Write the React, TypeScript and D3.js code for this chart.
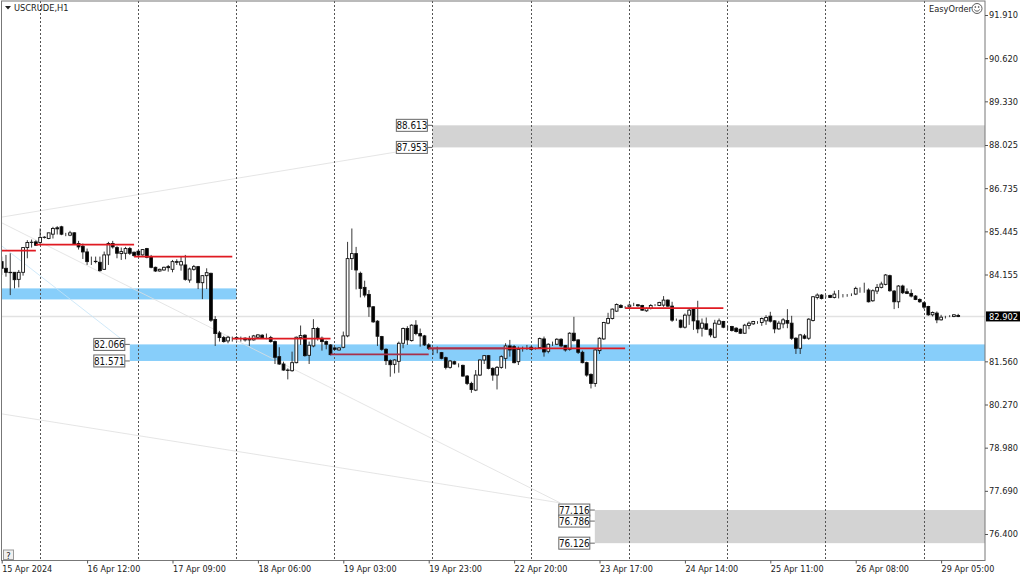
import * as d3 from 'd3';
import { useEffect, useRef } from 'react';

const opens = [
    84.54, 84.34, 84.22, 84.22, 84.01, 84.22, 84.96, 85.11, 85.13, 85.11,
    85.26, 85.23, 85.36, 85.55, 85.58, 85.36, 85.33, 85.40, 85.08, 85.00,
    84.83, 84.54, 84.54, 84.52, 84.31, 84.74, 85.08, 84.96, 84.78, 84.79,
    84.93, 84.82, 84.85, 84.74, 84.93, 84.69, 84.37, 84.26, 84.29, 84.39,
    84.31, 84.54, 84.44, 84.44, 83.99, 84.31, 84.39, 83.91, 84.12, 84.19,
    82.81, 82.41, 82.27, 82.17, 82.27, 82.27, 82.25, 82.25, 82.20, 82.20,
    82.28, 82.34, 82.28, 82.27, 82.15, 81.70, 81.48, 81.30, 81.28, 81.52,
    82.27, 82.34, 81.74, 82.02, 82.54, 82.25, 82.15, 82.05, 81.96, 81.90,
    81.98, 82.32, 84.63, 84.78, 84.19, 83.77, 83.56, 83.19, 82.76, 82.30,
    81.92, 81.58, 81.47, 81.56, 82.10, 82.54, 82.18, 82.64, 82.39, 82.32,
    82.05, 81.83, 81.85, 81.82, 81.67, 81.38, 81.55, 81.46, 81.44, 81.12,
    80.90, 80.70, 81.15, 81.60, 81.73, 81.35, 81.15, 81.38, 81.65, 82.02,
    82.00, 81.55, 81.95, 81.97, 81.98, 81.94, 81.97, 82.23, 81.86, 82.08,
    82.07, 82.22, 82.03, 81.92, 82.40, 82.20, 81.83, 81.52, 81.17, 80.90,
    81.88, 82.23, 82.70, 82.84, 83.06, 83.23, 83.19, 83.19, 83.24, 83.25,
    83.23, 83.07, 83.14, 83.24, 83.23, 83.24, 83.39, 83.21, 82.81, 82.79,
    82.58, 82.94, 83.12, 82.77, 82.55, 82.68, 82.52, 82.28, 82.67, 82.75,
    82.59, 82.60, 82.55, 82.52, 82.40, 82.63, 82.68, 82.73, 82.72, 82.77,
    82.91, 82.77, 82.53, 82.68, 82.78, 82.70, 82.25, 81.95, 82.32, 82.25,
    82.78, 83.47, 83.54, 83.52, 83.53, 83.47, 83.55, 83.53, 83.53, 83.55,
    83.57, 83.71, 83.69, 83.69, 83.37, 83.66, 83.77, 83.86, 84.12, 83.66,
    83.34, 83.81, 83.64, 83.59, 83.51, 83.41, 83.31, 83.20, 82.95, 83.00,
    82.80, 82.90, 82.91, 82.90, 82.93,
];

const closes = [
    84.34, 84.22, 84.21, 84.00, 84.22, 84.96, 85.11, 85.12, 85.03, 85.26,
    85.27, 85.40, 85.53, 85.52, 85.36, 85.36, 85.40, 85.06, 84.98, 84.83,
    84.54, 84.54, 84.55, 84.27, 84.74, 85.08, 84.98, 84.79, 84.84, 84.93,
    84.79, 84.72, 84.74, 84.90, 84.67, 84.37, 84.26, 84.31, 84.37, 84.36,
    84.54, 84.52, 84.54, 84.01, 84.32, 84.39, 83.91, 84.12, 84.21, 82.79,
    82.39, 82.27, 82.15, 82.28, 82.27, 82.24, 82.25, 82.20, 82.23, 82.32,
    82.35, 82.26, 82.28, 82.15, 81.68, 81.48, 81.30, 81.29, 81.52, 82.28,
    82.33, 81.73, 82.04, 82.54, 82.25, 82.15, 82.07, 81.76, 81.92, 81.96,
    82.32, 84.63, 84.78, 84.29, 83.74, 83.54, 83.19, 82.74, 82.31, 81.92,
    81.58, 81.46, 81.60, 82.10, 82.54, 82.20, 82.64, 82.39, 82.32, 82.05,
    81.95, 81.83, 81.85, 81.65, 81.38, 81.57, 81.48, 81.46, 81.12, 80.90,
    80.72, 81.15, 81.60, 81.73, 81.35, 81.15, 81.38, 81.70, 82.02, 81.90,
    81.52, 81.92, 81.95, 81.97, 81.92, 81.94, 82.24, 81.84, 82.07, 82.08,
    82.22, 82.02, 81.90, 82.40, 82.18, 81.83, 81.52, 81.15, 80.90, 81.90,
    82.25, 82.72, 82.84, 83.12, 83.26, 83.17, 83.19, 83.24, 83.24, 83.22,
    83.09, 83.14, 83.23, 83.24, 83.32, 83.39, 83.21, 82.79, 82.81, 82.58,
    82.94, 83.09, 82.77, 82.53, 82.70, 82.52, 82.35, 82.70, 82.77, 82.58,
    82.59, 82.48, 82.45, 82.40, 82.64, 82.70, 82.75, 82.73, 82.84, 82.87,
    82.76, 82.53, 82.70, 82.80, 82.70, 82.25, 81.95, 82.35, 82.25, 82.82,
    83.49, 83.54, 83.44, 83.52, 83.47, 83.57, 83.55, 83.53, 83.53, 83.55,
    83.74, 83.71, 83.69, 83.34, 83.67, 83.77, 83.87, 84.14, 83.67, 83.34,
    83.81, 83.61, 83.59, 83.51, 83.41, 83.34, 83.18, 82.95, 83.02, 82.80,
    82.88, 82.90, 82.91, 82.95, 82.90,
];

const highs = [
    84.69, 84.74, 84.79, 84.22, 84.29, 84.97, 85.18, 85.20, 85.18, 85.53,
    85.30, 85.40, 85.58, 85.60, 85.61, 85.40, 85.46, 85.42, 85.16, 85.08,
    84.93, 84.69, 84.69, 84.69, 84.84, 85.13, 85.16, 85.00, 84.96, 84.98,
    84.98, 84.84, 84.88, 84.91, 84.95, 84.74, 84.39, 84.33, 84.39, 84.44,
    84.59, 84.61, 84.69, 84.74, 84.36, 84.44, 84.41, 84.14, 84.34, 84.21,
    82.91, 82.47, 82.32, 82.32, 82.30, 82.31, 82.30, 82.28, 82.32, 82.35,
    82.37, 82.37, 82.39, 82.32, 82.18, 81.98, 81.55, 81.35, 81.85, 82.30,
    82.63, 82.37, 82.15, 82.82, 82.59, 82.30, 82.18, 82.07, 81.98, 81.98,
    82.45, 85.13, 85.53, 84.98, 84.24, 83.97, 83.69, 83.21, 82.79, 82.32,
    81.95, 81.62, 81.62, 82.15, 82.57, 82.61, 82.67, 82.79, 82.54, 82.35,
    82.10, 81.95, 82.00, 81.84, 81.70, 81.60, 81.58, 81.50, 81.46, 81.15,
    80.95, 81.30, 81.62, 81.75, 81.75, 81.38, 81.42, 81.74, 82.10, 82.20,
    82.05, 82.00, 82.00, 82.05, 82.02, 81.97, 82.27, 82.30, 82.10, 82.15,
    82.25, 82.25, 82.05, 82.43, 82.89, 82.22, 81.88, 81.55, 81.20, 81.92,
    82.28, 82.74, 83.01, 83.14, 83.29, 83.27, 83.21, 83.29, 83.31, 83.27,
    83.25, 83.17, 83.27, 83.27, 83.34, 83.51, 83.41, 83.34, 82.84, 82.81,
    82.99, 83.14, 83.14, 83.37, 82.84, 82.87, 82.55, 82.80, 82.84, 82.77,
    82.62, 82.62, 82.58, 82.54, 82.68, 82.75, 82.77, 82.76, 82.87, 82.94,
    83.04, 82.79, 82.77, 82.85, 83.12, 82.92, 82.28, 82.38, 82.38, 82.85,
    83.51, 83.59, 83.57, 83.54, 83.55, 83.67, 83.69, 83.57, 83.57, 83.59,
    83.79, 83.77, 83.91, 83.74, 83.71, 83.87, 83.94, 84.17, 84.15, 83.69,
    83.84, 83.85, 83.74, 83.71, 83.54, 83.44, 83.34, 83.22, 83.05, 83.05,
    82.95, 82.92, 82.94, 82.97, 82.98,
];

const lows = [
    84.14, 84.09, 83.54, 83.74, 83.77, 84.12, 84.64, 84.96, 85.01, 85.03,
    85.23, 85.21, 85.23, 85.35, 85.33, 85.30, 85.30, 85.04, 84.90, 84.62,
    84.44, 84.44, 84.49, 84.24, 84.29, 84.44, 84.93, 84.64, 84.59, 84.61,
    84.74, 84.69, 84.69, 84.72, 84.64, 84.34, 84.23, 84.24, 84.27, 84.24,
    84.22, 84.44, 84.27, 83.97, 83.91, 84.27, 83.72, 83.42, 83.72, 82.74,
    82.02, 82.15, 82.12, 82.10, 82.15, 82.19, 82.15, 82.15, 82.02, 82.18,
    82.26, 82.24, 82.22, 82.12, 81.48, 81.45, 81.28, 81.02, 81.25, 81.50,
    82.05, 81.70, 81.48, 81.98, 82.18, 81.88, 81.92, 81.74, 81.90, 81.88,
    81.95, 82.28, 84.29, 83.71, 83.47, 83.47, 82.89, 82.71, 82.02, 81.88,
    81.45, 81.10, 81.20, 81.22, 81.95, 82.05, 82.15, 82.34, 82.00, 82.02,
    81.90, 81.75, 81.80, 81.62, 81.32, 81.34, 81.46, 81.38, 81.10, 80.85,
    80.62, 80.67, 81.12, 81.48, 81.32, 80.98, 80.72, 81.34, 81.34, 81.70,
    81.50, 81.45, 81.85, 81.90, 81.90, 81.91, 81.95, 81.70, 81.80, 82.02,
    82.05, 81.98, 81.85, 81.88, 82.15, 81.78, 81.50, 81.10, 80.75, 80.80,
    81.78, 82.20, 82.67, 82.81, 83.04, 83.15, 83.14, 83.14, 83.21, 83.19,
    83.07, 83.04, 83.11, 83.21, 83.21, 83.19, 83.19, 82.74, 82.77, 82.55,
    82.54, 82.65, 82.50, 82.40, 82.30, 82.50, 82.28, 82.25, 82.65, 82.55,
    82.50, 82.45, 82.42, 82.38, 82.38, 82.52, 82.65, 82.68, 82.62, 82.65,
    82.72, 82.40, 82.50, 82.55, 82.55, 82.20, 81.78, 81.78, 82.22, 82.20,
    82.75, 83.41, 83.41, 83.47, 83.45, 83.44, 83.44, 83.47, 83.49, 83.51,
    83.54, 83.61, 83.61, 83.32, 83.34, 83.57, 83.74, 83.83, 83.64, 83.12,
    83.15, 83.57, 83.57, 83.47, 83.39, 83.31, 83.12, 82.92, 82.90, 82.70,
    82.78, 82.84, 82.88, 82.88, 82.88,
];

// price axis
const priceTicks = [91.91, 90.62, 89.33, 88.025, 86.735, 85.445, 84.155, 81.56, 80.27, 78.98, 77.69, 76.4];
const lastPrice = 82.902;

// time axis: every 20th bar
const timeBars = [0, 20, 40, 60, 80, 100, 120, 140, 160, 180, 200, 220];
const timeLabels = [
    '15 Apr 2024', '16 Apr 12:00', '17 Apr 09:00', '18 Apr 06:00', '19 Apr 03:00', '19 Apr 23:00',
    '22 Apr 20:00', '23 Apr 17:00', '24 Apr 14:00', '25 Apr 11:00', '26 Apr 08:00', '29 Apr 05:00',
];

// period separators, bar index
const separatorBars = [9, 32, 55, 78, 101, 124, 147, 170, 193, 216];

// zones: [first bar, last bar, upper price, lower price]
const LAST_COLUMN = 230.3;
const blueZones = [
    [0, 55, 83.74, 83.41],
    [30, LAST_COLUMN, 82.066, 81.571],
];
const grayZones = [
    [100.85, LAST_COLUMN, 88.613, 87.953],
    [138.9, LAST_COLUMN, 77.116, 76.126],
];

// price tags: [bar, price]
const priceTags = [
    [100.85, 88.613],
    [100.85, 87.953],
    [30, 82.066],
    [30, 81.571],
    [138.9, 77.116],
    [138.9, 76.786],
    [138.9, 76.126],
];

// red levels: [first bar, last bar, price]
const redLevels = [
    [0, 8, 84.87],
    [8, 31, 85.05],
    [31, 54, 84.69],
    [54, 77, 82.24],
    [100, 146, 81.95],
    [146, 169, 83.15],
];
const mutedLevels = [
    [77, 100, 81.77],
    [100, 118, 81.95],
];

// faint trend lines: [bar, price, bar, price]
const grayTrends = [
    [0, 85.87, 92.6, 87.82],
    [0, 85.7, 130.8, 77.33],
    [0, 79.99, 130.8, 77.33],
];
const blueTrends = [[0, 85.01, 28.9, 82.14]];

const FONT = "'DejaVu Sans Condensed', 'DejaVu Sans', sans-serif";
const LABEL_SIZE = 9.2;

export default function App() {
    const svgRef = useRef<SVGSVGElement>(null);

    useEffect(() => {
        if (!svgRef.current) return;

        const width = 1024;
        const height = 576;
        const plot = { left: 1.5, top: 1, right: 985, bottom: 560.5 };

        const svg = d3.select(svgRef.current).attr('width', width).attr('height', height).style('position', 'absolute').style('left', 0).style('top', 0).style('background', '#fff').style('font-family', FONT);

        svg.selectAll('*').remove();

        const x = d3.scaleLinear().domain([0, 224]).range([1.7, 958.2]);
        const y = d3.scaleLinear().domain([91.91, 76.4]).range([15, 534]);

        svg.append('defs').append('clipPath').attr('id', 'plot-clip').append('rect').attr('x', plot.left).attr('y', plot.top).attr('width', plot.right - plot.left).attr('height', plot.bottom - plot.top);

        const chart = svg.append('g').attr('clip-path', 'url(#plot-clip)');

        // zones
        const drawZones = (zones: number[][], fill: string) => {
            chart
                .append('g')
                .selectAll('rect')
                .data(zones)
                .join('rect')
                .attr('x', (d) => x(d[0]))
                .attr('width', (d) => x(d[1]) - x(d[0]))
                .attr('y', (d) => y(d[2]))
                .attr('height', (d) => y(d[3]) - y(d[2]))
                .attr('fill', fill);
        };
        drawZones(blueZones, '#87cefa');
        drawZones(grayZones, '#d3d3d3');

        // last price line
        chart.append('line').attr('x1', plot.left).attr('x2', plot.right).attr('y1', y(lastPrice)).attr('y2', y(lastPrice)).attr('stroke', '#e2e2e2').attr('stroke-width', 1.4);

        // trend lines
        const drawTrends = (trends: number[][], stroke: string) => {
            chart
                .append('g')
                .selectAll('line')
                .data(trends)
                .join('line')
                .attr('x1', (d) => x(d[0]))
                .attr('y1', (d) => y(d[1]))
                .attr('x2', (d) => x(d[2]))
                .attr('y2', (d) => y(d[3]))
                .attr('stroke', stroke)
                .attr('stroke-width', 0.8);
        };
        drawTrends(grayTrends, '#dedede');
        drawTrends(blueTrends, '#c4e3f8');

        // separators
        chart
            .append('g')
            .selectAll('line')
            .data(separatorBars)
            .join('line')
            .attr('x1', (d) => Math.floor(x(d)) + 0.5)
            .attr('x2', (d) => Math.floor(x(d)) + 0.5)
            .attr('y1', plot.top)
            .attr('y2', plot.bottom)
            .attr('stroke', '#555')
            .attr('stroke-dasharray', '2 2');

        // candles
        const bars = d3.range(opens.length);
        const candles = chart.append('g');
        candles
            .selectAll('line')
            .data(bars)
            .join('line')
            .attr('x1', (i) => x(i))
            .attr('x2', (i) => x(i))
            .attr('y1', (i) => y(highs[i]))
            .attr('y2', (i) => y(lows[i]))
            .attr('stroke', '#222')
            .attr('stroke-width', 0.9);
        candles
            .selectAll('rect')
            .data(bars)
            .join('rect')
            .attr('x', (i) => x(i) - 1.4)
            .attr('width', 2.8)
            .attr('y', (i) => y(Math.max(opens[i], closes[i])))
            .attr('height', (i) => Math.abs(y(opens[i]) - y(closes[i])))
            .attr('fill', (i) => (closes[i] < opens[i] ? '#000' : '#fff'))
            .attr('stroke', '#111')
            .attr('stroke-width', 0.9);

        // red levels
        const drawLevels = (levels: number[][], stroke: string) => {
            chart
                .append('g')
                .selectAll('line')
                .data(levels)
                .join('line')
                .attr('x1', (d) => x(d[0]))
                .attr('x2', (d) => x(d[1]))
                .attr('y1', (d) => y(d[2]))
                .attr('y2', (d) => y(d[2]))
                .attr('stroke', stroke)
                .attr('stroke-width', 1.8);
        };
        drawLevels(redLevels, '#e01a22');
        drawLevels(mutedLevels, '#a8304a');

        // price tags
        const tags = chart.append('g').selectAll('g').data(priceTags).join('g');
        tags.append('line')
            .attr('x1', (d) => x(d[0]) - 5)
            .attr('x2', (d) => x(d[0]))
            .attr('y1', (d) => y(d[1]))
            .attr('y2', (d) => y(d[1]))
            .attr('stroke', '#666');
        tags.append('rect')
            .attr('x', (d) => x(d[0]) - 36)
            .attr('y', (d) => y(d[1]) - 6)
            .attr('width', 31)
            .attr('height', 12)
            .attr('fill', '#fff')
            .attr('stroke', '#666');
        tags.append('text')
            .attr('x', (d) => x(d[0]) - 20.5)
            .attr('y', (d) => y(d[1]) + 3.8)
            .attr('text-anchor', 'middle')
            .attr('font-size', 9.8)
            .attr('fill', '#111')
            .text((d) => d[1].toFixed(3));

        // frame
        svg.append('rect').attr('x', plot.left).attr('y', plot.top).attr('width', plot.right - plot.left).attr('height', plot.bottom - plot.top).attr('fill', 'none').attr('stroke', '#777');

        // price axis
        const yAxis = svg.append('g').attr('transform', `translate(${plot.right},0)`).call(d3.axisRight(y).tickValues(priceTicks).tickFormat(d3.format('.3f')).tickSize(3).tickPadding(1));
        yAxis.select('.domain').remove();
        yAxis.selectAll('.tick line').attr('stroke', '#555');
        yAxis.selectAll('text').attr('fill', '#222').attr('font-size', LABEL_SIZE).attr('font-family', FONT);

        // last price tag
        svg.append('rect').attr('x', plot.right + 1).attr('y', y(lastPrice) - 5).attr('width', 34).attr('height', 10).attr('fill', '#000');
        svg.append('text').attr('x', plot.right + 4).attr('y', y(lastPrice) + 3.5).attr('fill', '#fff').attr('font-size', LABEL_SIZE).text(lastPrice.toFixed(3));

        // time axis
        const xAxis = svg
            .append('g')
            .attr('transform', `translate(0,${plot.bottom})`)
            .call(
                d3
                    .axisBottom(x)
                    .tickValues(timeBars)
                    .tickFormat((_, i) => timeLabels[i])
                    .tickSize(3)
                    .tickPadding(2),
            );
        xAxis.select('.domain').remove();
        xAxis.selectAll('.tick line').attr('stroke', '#555');
        xAxis.selectAll('text').attr('fill', '#222').attr('font-size', 9).attr('font-family', FONT).style('text-anchor', 'start');

        // chart title
        svg.append('polygon').attr('points', '5,6 11,6 8,9.5').attr('fill', '#222');
        svg.append('text').attr('x', 14).attr('y', 11).attr('font-size', LABEL_SIZE).attr('fill', '#222').text('USCRUDE,H1');

        // EasyOrder
        svg.append('text').attr('x', 929).attr('y', 12).attr('font-size', LABEL_SIZE).attr('fill', '#222').text('EasyOrder');
        const face = svg.append('g').attr('transform', 'translate(977,8.5)').attr('fill', 'none').attr('stroke', '#333').attr('stroke-width', 0.8);
        face.append('circle').attr('r', 5);
        face.append('path').attr('d', 'M-2.8,1 Q0,4.4 2.8,1');
        face.append('circle').attr('cx', -1.7).attr('cy', -1.5).attr('r', 0.5);
        face.append('circle').attr('cx', 1.7).attr('cy', -1.5).attr('r', 0.5);

        // help button
        svg.append('rect').attr('x', 3.5).attr('y', 550).attr('width', 10).attr('height', 9.5).attr('fill', '#f0f0f0').attr('stroke', '#999');
        svg.append('text').attr('x', 8.5).attr('y', 558.5).attr('text-anchor', 'middle').attr('font-size', LABEL_SIZE).attr('fill', '#222').text('?');
    }, []);

    return <svg ref={svgRef} />;
}
